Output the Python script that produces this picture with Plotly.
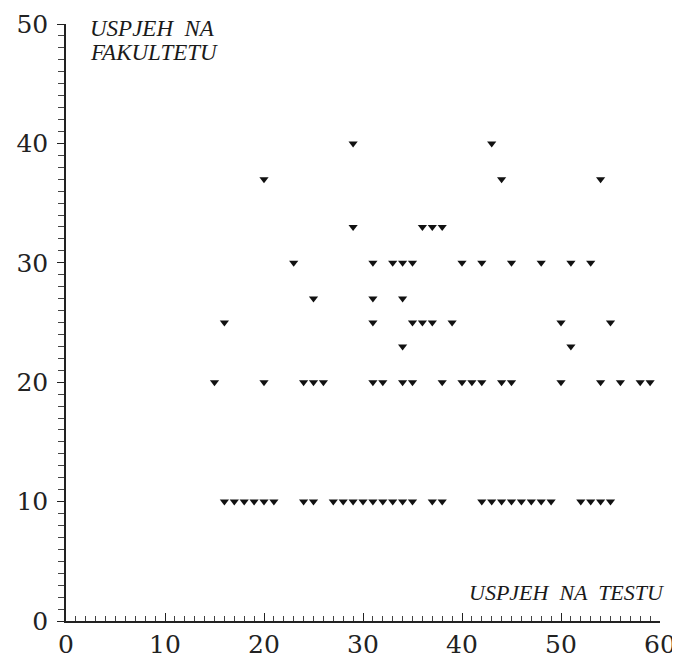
import plotly.graph_objects as go

# Data (x = uspjeh na testu, y = uspjeh na fakultetu)
y10_x = [16, 17, 18, 19, 20, 21, 24, 25, 27, 28, 29, 30, 31, 32, 33, 34, 35,
         37, 38, 42, 43, 44, 45, 46, 47, 48, 49, 52, 53, 54, 55]
y20_x = [15, 20, 24, 25, 26, 31, 32, 34, 35, 38, 40, 41, 42, 44, 45, 50, 54, 56, 58, 59]
y23_x = [34, 51]
y25_x = [16, 31, 35, 36, 37, 39, 50, 55]
y27_x = [25, 31, 34]
y30_x = [23, 31, 33, 34, 35, 40, 42, 45, 48, 51, 53]
y33_x = [29, 36, 37, 38]
y37_x = [20, 44, 54]
y40_x = [29, 43]

rows = {10: y10_x, 20: y20_x, 23: y23_x, 25: y25_x, 27: y27_x,
        30: y30_x, 33: y33_x, 37: y37_x, 40: y40_x}

xs, ys = [], []
for yv, xl in rows.items():
    for xv in xl:
        xs.append(xv)
        ys.append(yv)

x_ticks = [0, 10, 20, 30, 40, 50, 60]
y_ticks = [0, 10, 20, 30, 40, 50]

y_label_lines = ["USPJEH  NA", "FAKULTETU"]
x_label = "USPJEH  NA  TESTU"

fig = go.Figure()
fig.add_trace(go.Scatter(
    x=xs, y=ys, mode="markers",
    marker=dict(symbol="triangle-down", size=8, color="#111111"),
    showlegend=False, cliponaxis=False,
))

tickfont = dict(family="DejaVu Serif, serif", size=25, color="#222222")
labfont = dict(family="Liberation Serif, serif", size=23, color="#1a1a1a")

# page body has an 8px margin, so the figure is sized/offset to compensate
fig.update_layout(
    width=672, height=651,
    margin=dict(l=58, r=20, t=16, b=38, autoexpand=False),
    paper_bgcolor="white", plot_bgcolor="white",
    xaxis=dict(
        range=[0, 60], tickvals=x_ticks, ticktext=[str(v) for v in x_ticks],
        showgrid=False, zeroline=False, automargin=False,
        showline=True, linecolor="#222222", linewidth=1.5,
        ticks="inside", ticklen=8, tickwidth=1.2, tickcolor="#222222",
        minor=dict(dtick=1, ticks="inside", ticklen=5, tickwidth=1, tickcolor="#444444"),
        tickfont=tickfont, fixedrange=True, ticklabelstandoff=0,
    ),
    yaxis=dict(
        range=[0, 50], tickvals=y_ticks, ticktext=[str(v) for v in y_ticks],
        showgrid=False, zeroline=False, automargin=False,
        showline=True, linecolor="#222222", linewidth=1.5,
        ticks="outside", ticklen=7, tickwidth=1.2, tickcolor="#222222",
        minor=dict(dtick=1, ticks="outside", ticklen=6, tickwidth=1, tickcolor="#444444"),
        tickfont=tickfont, fixedrange=True, ticklabelstandoff=4,
    ),
    annotations=[
        dict(text="<i>%s</i>" % y_label_lines[0], xref="paper", yref="paper",
             x=0.037, y=0.993, xanchor="left", yanchor="middle", showarrow=False,
             font=labfont),
        dict(text="<i>%s</i>" % y_label_lines[1], xref="paper", yref="paper",
             x=0.037, y=0.953, xanchor="left", yanchor="middle", showarrow=False,
             font=labfont),
        dict(text="<i>%s</i>" % x_label, xref="paper", yref="paper",
             x=1.0, xshift=7, y=0.047, xanchor="right", yanchor="middle", showarrow=False,
             font=dict(family="Liberation Serif, serif", size=22, color="#1a1a1a")),
    ],
)

fig.write_html("out.html")
